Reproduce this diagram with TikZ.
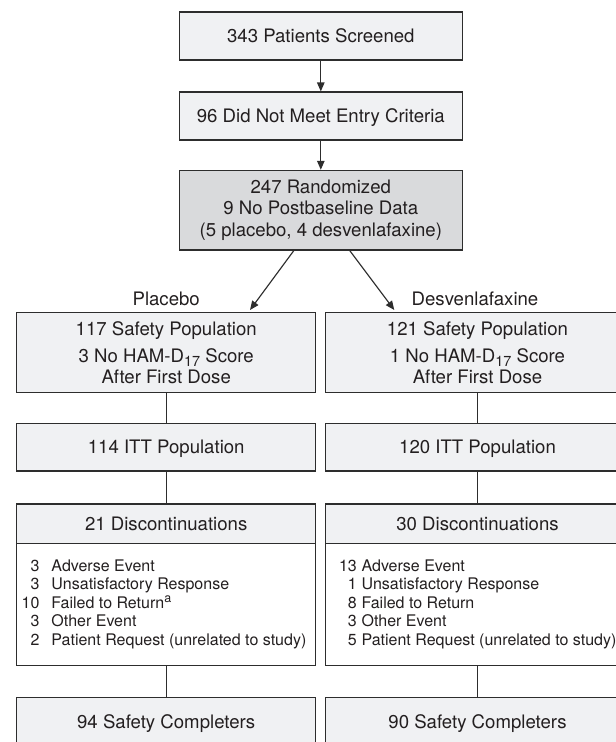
\documentclass[tikz,border=0pt]{standalone}
\usepackage{fontspec}
\setmainfont{TeX Gyre Heros}
\usetikzlibrary{arrows.meta,calc}
\definecolor{boxfill}{RGB}{240,241,243}
\definecolor{randfill}{RGB}{217,218,220}
\definecolor{edge}{RGB}{45,45,45}
\definecolor{ink}{RGB}{35,31,32}
\newcommand{\hamsub}{\raisebox{-4.5pt}{\fontsize{14.5}{14.5}\selectfont 17}}
\newcommand{\supa}{\raisebox{5.5pt}{\fontsize{12.5}{12.5}\selectfont a}}
\begin{document}
\begin{tikzpicture}[x=1pt,y=-1pt,
  box/.style={draw=edge,line width=1.15pt,fill=boxfill,inner sep=0pt,align=center,text=ink,
    font=\fontsize{18.6}{21.6}\selectfont},
  one/.style={text height=13.3pt,text depth=0pt},
  wide/.style={minimum width=283pt},
  colbox/.style={minimum width=299pt},
  colboxr/.style={minimum width=304pt},
  listtext/.style={anchor=west,inner sep=0pt,text=ink,font=\fontsize{16}{18.6}\selectfont},
  grouplabel/.style={anchor=base,inner sep=0pt,text=ink,font=\fontsize{18.6}{21.6}\selectfont},
  arr/.style={draw=edge,line width=1.15pt,-{Triangle[length=9pt,width=7.5pt]}},
  link/.style={draw=edge,line width=1.15pt}]
\useasboundingbox (0,0) rectangle (616,742);
\clip (0,0) rectangle (616,742);

% top column
\node[box,one,wide,minimum height=48pt] (screen) at (320.8,36) {343 Patients Screened};
\node[box,one,wide,minimum height=48pt] (entry) at (320.8,116) {96 Did Not Meet Entry Criteria};
\node[box,wide,minimum height=79.7pt,fill=randfill] (rand) at (320.8,210.2)
  {247 Randomized\\9 No Postbaseline Data\\(5 placebo, 4 desvenlafaxine)};

\draw[arr] (screen) -- (entry);
\draw[arr] (entry) -- (rand);

% group labels
\node[grouplabel] (plabel) at (166.2,305.7) {Placebo};
\node[grouplabel] (dlabel) at (475,305.7) {Desvenlafaxine};

% left column
\node[box,colbox,minimum height=80pt] (lsafe) at (166.2,352.7)
  {117 Safety Population\\[5pt]3 No HAM-D\hamsub{} Score\\After First Dose};
\node[box,one,colbox,minimum height=47.7pt] (litt) at (166.2,447.2) {114 ITT Population};
\node[box,one,colbox,minimum height=39.7pt] (ldisc) at (166.2,523.85) {21 Discontinuations};
\node[box,colbox,minimum height=122pt,fill=white] (llist) at (166.2,604.7) {};
\node[listtext] (llisttext) at (21.5,604.5) {\begin{tabular}{@{}r@{\hspace{12pt}}l@{}}
3&Adverse Event\\
3&Unsatisfactory Response\\
10&Failed to Return\supa\\
3&Other Event\\
2&Patient Request (unrelated to study)
\end{tabular}};
\node[box,one,colbox,minimum height=48pt] (lcomp) at (166.2,721.5) {94 Safety Completers};

% right column
\node[box,colboxr,minimum height=80pt] (rsafe) at (477.5,352.7)
  {121 Safety Population\\[5pt]1 No HAM-D\hamsub{} Score\\After First Dose};
\node[box,one,colboxr,minimum height=47.7pt] (ritt) at (477.5,447.2) {120 ITT Population};
\node[box,one,colboxr,minimum height=39.7pt] (rdisc) at (477.5,523.85) {30 Discontinuations};
\node[box,colboxr,minimum height=122pt,fill=white] (rlist) at (477.5,604.7) {};
\node[listtext] (rlisttext) at (338.9,604.5) {\begin{tabular}{@{}r@{\hspace{4.7pt}}l@{}}
13&Adverse Event\\
1&Unsatisfactory Response\\
8&Failed to Return\\
3&Other Event\\
5&Patient Request (unrelated to study)
\end{tabular}};
\node[box,one,colboxr,minimum height=48pt] (rcomp) at (477.5,721.5) {90 Safety Completers};

% branching arrows
\coordinate (ls) at ($(rand.south)+(-27,0)$);
\coordinate (rs) at ($(rand.south)+(29,0)$);
\coordinate (le) at (250,310);
\coordinate (re) at (394.3,310);
\draw[arr] (ls) -- (le);
\draw[arr] (rs) -- (re);

% vertical links
\draw[link] (lsafe) -- (litt);
\draw[link] (litt) -- (ldisc);
\draw[link] (llist) -- (lcomp);
\draw[link] (rsafe.south) -- (ritt.north);
\draw[link] (ritt.south) -- (rdisc.north);
\draw[link] (rlist.south) -- (rcomp.north);
\end{tikzpicture}
\end{document}
